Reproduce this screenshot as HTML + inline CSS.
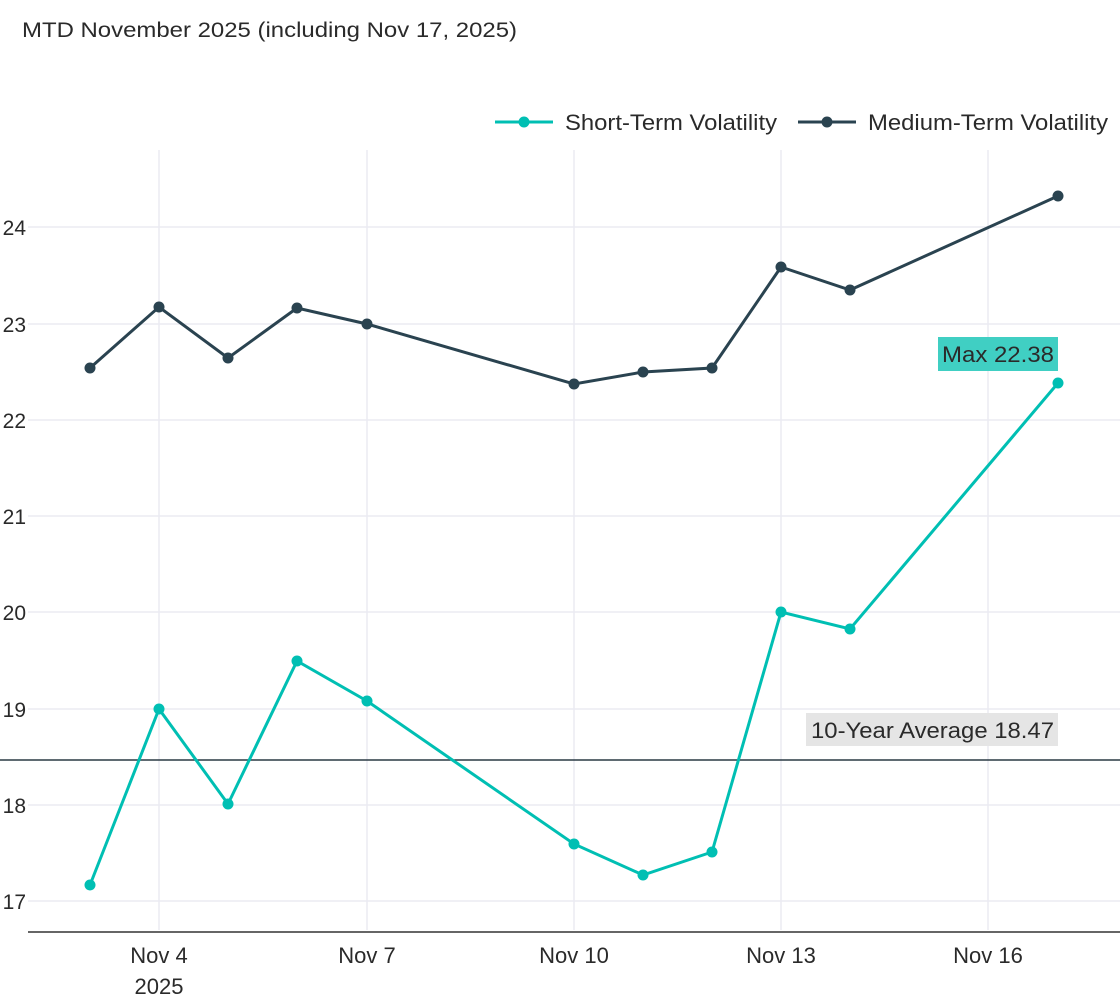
<!DOCTYPE html>
<html><head><meta charset="utf-8"><style>
body{margin:0;background:#fff;}
svg text{font-family:"Liberation Sans",Arial,sans-serif;fill:#2a2a2a;}
</style></head><body>
<svg width="1120" height="1000" viewBox="0 0 1120 1000" xmlns="http://www.w3.org/2000/svg">
<rect width="1120" height="1000" fill="#fff"/>
<text x="22" y="37" font-size="21" textLength="495" lengthAdjust="spacingAndGlyphs">MTD November 2025 (including Nov 17, 2025)</text>
<g stroke="#ebebf2" stroke-width="1.5">
<line x1="159" y1="150" x2="159" y2="930"/><line x1="367" y1="150" x2="367" y2="930"/>
<line x1="574" y1="150" x2="574" y2="930"/><line x1="781" y1="150" x2="781" y2="930"/>
<line x1="988" y1="150" x2="988" y2="930"/>
<line x1="28" y1="901" x2="1120" y2="901"/><line x1="28" y1="805" x2="1120" y2="805"/>
<line x1="28" y1="709" x2="1120" y2="709"/><line x1="28" y1="612" x2="1120" y2="612"/>
<line x1="28" y1="516" x2="1120" y2="516"/><line x1="28" y1="420" x2="1120" y2="420"/>
<line x1="28" y1="324" x2="1120" y2="324"/><line x1="28" y1="227" x2="1120" y2="227"/>
</g>
<g font-size="21" text-anchor="end">
<text x="26" y="909">17</text><text x="26" y="813">18</text><text x="26" y="717">19</text>
<text x="26" y="620">20</text><text x="26" y="524">21</text><text x="26" y="428">22</text>
<text x="26" y="332">23</text><text x="26" y="235">24</text>
</g>
<line x1="28" y1="932" x2="1120" y2="932" stroke="#333" stroke-width="1.5"/>
<g font-size="22" text-anchor="middle">
<text x="159" y="963">Nov 4</text><text x="159" y="994">2025</text>
<text x="367" y="963">Nov 7</text><text x="574" y="963">Nov 10</text>
<text x="781" y="963">Nov 13</text><text x="988" y="963">Nov 16</text>
</g>
<line x1="0" y1="760" x2="1120" y2="760" stroke="#2a3a44" stroke-width="1.5"/>
<polyline fill="none" stroke="#00bfb3" stroke-width="3" points="90,885 159,709 228,804 297,661 367,701 574,844 643,875 712,852 781,612 850,629 1058,383"/>
<g fill="#00bfb3">
<circle cx="90" cy="885" r="5.5"/><circle cx="159" cy="709" r="5.5"/><circle cx="228" cy="804" r="5.5"/><circle cx="297" cy="661" r="5.5"/><circle cx="367" cy="701" r="5.5"/><circle cx="574" cy="844" r="5.5"/><circle cx="643" cy="875" r="5.5"/><circle cx="712" cy="852" r="5.5"/><circle cx="781" cy="612" r="5.5"/><circle cx="850" cy="629" r="5.5"/><circle cx="1058" cy="383" r="5.5"/>
</g>
<polyline fill="none" stroke="#2a4350" stroke-width="3" points="90,368 159,307 228,358 297,308 367,324 574,384 643,372 712,368 781,267 850,290 1058,196"/>
<g fill="#2a4350">
<circle cx="90" cy="368" r="5.5"/><circle cx="159" cy="307" r="5.5"/><circle cx="228" cy="358" r="5.5"/><circle cx="297" cy="308" r="5.5"/><circle cx="367" cy="324" r="5.5"/><circle cx="574" cy="384" r="5.5"/><circle cx="643" cy="372" r="5.5"/><circle cx="712" cy="368" r="5.5"/><circle cx="781" cy="267" r="5.5"/><circle cx="850" cy="290" r="5.5"/><circle cx="1058" cy="196" r="5.5"/>
</g>
<rect x="938" y="337" width="120" height="34" fill="#40cfc3"/>
<text x="942" y="362" font-size="22" textLength="112" lengthAdjust="spacingAndGlyphs">Max 22.38</text>
<rect x="806" y="713" width="252" height="33" fill="#e5e5e5"/>
<text x="811" y="738" font-size="22" textLength="243" lengthAdjust="spacingAndGlyphs">10-Year Average 18.47</text>
<line x1="495" y1="122" x2="553" y2="122" stroke="#00bfb3" stroke-width="3"/><circle cx="524" cy="122" r="5.5" fill="#00bfb3"/>
<text x="565" y="130" font-size="22" textLength="212" lengthAdjust="spacingAndGlyphs">Short-Term Volatility</text>
<line x1="798" y1="122" x2="856" y2="122" stroke="#2a4350" stroke-width="3"/><circle cx="827" cy="122" r="5.5" fill="#2a4350"/>
<text x="868" y="130" font-size="22" textLength="240" lengthAdjust="spacingAndGlyphs">Medium-Term Volatility</text>
</svg>
</body></html>
